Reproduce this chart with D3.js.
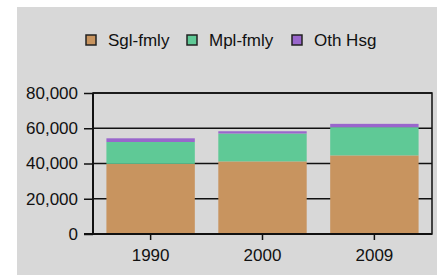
<!DOCTYPE html>
<html>
<head>
<meta charset="utf-8">
<script src="https://cdn.jsdelivr.net/npm/d3@7"></script>
<style>
  body { margin: 0; background: #fff; }
  text { font-family: "Liberation Sans", Arial, sans-serif; fill: #111; }
</style>
</head>
<body>
<div class="canva"></div>
<script>
// data
const years = ["1990", "2000", "2009"];
const seriesNames = ["Sgl-fmly", "Mpl-fmly", "Oth Hsg"];
const sglFmly = [39800, 41200, 44600];
const mplFmly = [12400, 15800, 16000];
const othHsg = [2100, 1300, 1900];
const yTicks = [0, 20000, 40000, 60000, 80000];

const colors = ["#c8945f", "#5fc996", "#9966cc"];

const canvas = d3.select(".canva");

const svg = canvas.append("svg")
            .attr("width", 445)
            .attr("height", 275);

// grey panel
svg.append("rect")
   .attr("x", 17).attr("y", 7)
   .attr("width", 420).attr("height", 268)
   .attr("fill", "#d8d8d8");

const plot = {left: 93, right: 432, top: 93, bottom: 234};

const x = d3.scaleBand()
            .domain(years)
            .range([plot.left, plot.right])
            .paddingInner(0.21)
            .paddingOuter(0.12);

const y = d3.scaleLinear()
            .domain([0, 80000])
            .range([plot.bottom, plot.top]);

const formatComma = d3.format(",");

// gridlines (behind the bars)
svg.append("g")
   .selectAll("line")
   .data(yTicks)
   .enter()
   .append("line")
   .attr("x1", plot.left).attr("x2", plot.right)
   .attr("y1", d => y(d)).attr("y2", d => y(d))
   .attr("stroke", "#111")
   .attr("stroke-width", 1.5);

// stacked bars
const table = years.map((yr, i) => ({
  year: yr,
  "Sgl-fmly": sglFmly[i],
  "Mpl-fmly": mplFmly[i],
  "Oth Hsg": othHsg[i]
}));

const stacked = d3.stack().keys(seriesNames)(table);

svg.append("g")
   .selectAll("g")
   .data(stacked)
   .enter()
   .append("g")
   .attr("fill", (d, i) => colors[i])
   .selectAll("rect")
   .data(d => d)
   .enter()
   .append("rect")
   .attr("x", d => x(d.data.year))
   .attr("width", x.bandwidth())
   .attr("y", d => y(d[1]))
   .attr("height", d => y(d[0]) - y(d[1]));

// frame: left & bottom axis heavier
const frame = svg.append("g").attr("stroke", "#111").attr("fill", "none");
frame.append("rect")
     .attr("x", plot.left).attr("y", plot.top)
     .attr("width", plot.right - plot.left)
     .attr("height", plot.bottom - plot.top)
     .attr("stroke-width", 1.5);
frame.append("line")
     .attr("x1", plot.left).attr("x2", plot.left)
     .attr("y1", plot.top).attr("y2", plot.bottom + 1)
     .attr("stroke-width", 2);
frame.append("line")
     .attr("x1", plot.left - 9).attr("x2", plot.right)
     .attr("y1", plot.bottom).attr("y2", plot.bottom)
     .attr("stroke-width", 2);

// y axis
const yAxis = d3.axisLeft(y)
                .tickValues(yTicks)
                .tickFormat(formatComma)
                .tickSize(9)
                .tickPadding(6);

const yAxisGroup = svg.append("g")
                      .attr("transform", `translate(${plot.left},0)`)
                      .call(yAxis);
yAxisGroup.select(".domain").remove();
yAxisGroup.selectAll("line").attr("stroke", "#111").attr("stroke-width", 1.5);
yAxisGroup.selectAll("text")
          .attr("font-size", 17)
          .attr("font-family", "Liberation Sans, Arial, sans-serif")
          .attr("fill", "#111");

// x axis
const xAxis = d3.axisBottom(x)
                .tickSize(6)
                .tickPadding(9);

const xAxisGroup = svg.append("g")
                      .attr("transform", `translate(0,${plot.bottom})`)
                      .call(xAxis);
xAxisGroup.select(".domain").remove();
xAxisGroup.selectAll("line").attr("stroke", "#111").attr("stroke-width", 1.5);
xAxisGroup.selectAll("text")
          .attr("font-size", 17)
          .attr("font-family", "Liberation Sans, Arial, sans-serif")
          .attr("fill", "#111");

// legend
const legendX = [86, 187, 292];
const legend = svg.append("g");
const item = legend.selectAll("g")
                   .data(seriesNames)
                   .enter()
                   .append("g")
                   .attr("transform", (d, i) => `translate(${legendX[i]},35)`);
item.append("rect")
    .attr("width", 10).attr("height", 10)
    .attr("fill", (d, i) => colors[i])
    .attr("stroke", "#222")
    .attr("stroke-width", 1.5);
item.append("text")
    .attr("x", 22)
    .attr("y", 11)
    .attr("font-size", 17)
    .text(d => d);
</script>
</body>
</html>
